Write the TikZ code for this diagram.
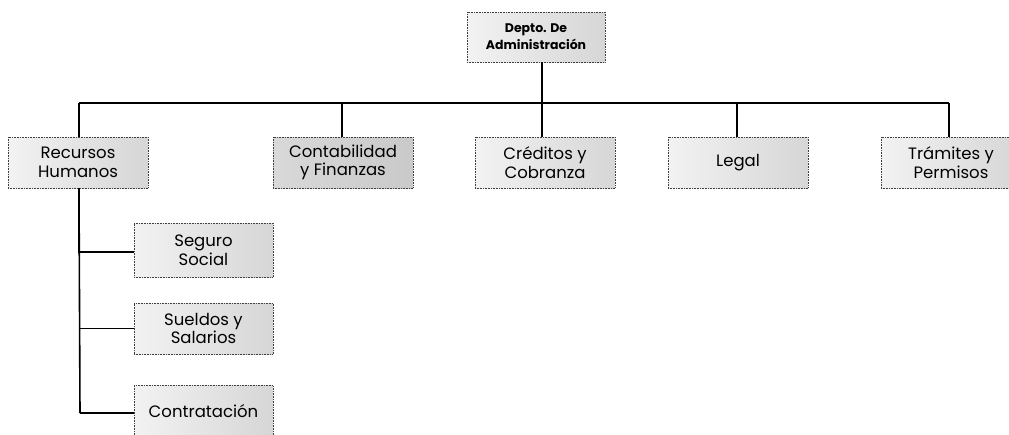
\documentclass[tikz,border=0pt]{standalone}
\usepackage{fontspec}
\setmainfont{Poppins}
\begin{document}
\begin{tikzpicture}[x=1pt,y=-1pt,
  unit/.style={draw=black!75, line width=0.6pt, densely dotted,
    left color=gray!10, right color=gray!32,
    minimum width=140pt, minimum height=51pt, inner sep=0pt,
    align=center, font=\fontsize{16.5}{18.5}\selectfont},
  darkunit/.style={unit, left color=gray!30, right color=gray!42},
  headunit/.style={unit, minimum width=138pt, minimum height=50pt,
    font=\bfseries\fontsize{12.5}{17}\selectfont},
  link/.style={draw=black, line width=1.6pt},
  bus/.style={draw=black, line width=1.2pt}]
\useasboundingbox (0,0) rectangle (1009,434);
\clip (0,0) rectangle (1009,434);

% head of department
\node[headunit] (dir) at (536,37) {Depto. De\\Administración};

% departments
\node[unit]     (rh)    at (78,162.5)  {Recursos\\Humanos};
\node[darkunit] (cf)    at (343,162.5) {Contabilidad\\y Finanzas};
\node[unit]     (cc)    at (545,162.5) {Créditos y\\Cobranza};
\node[unit]     (legal) at (738,162.5) {Legal};
\node[unit]     (tp)    at (951,162.5) {Trámites y\\Permisos};

% human resources sections
\node[unit, minimum width=139pt, minimum height=54pt] (ss) at (203.5,250)   {Seguro\\Social};
\node[unit, minimum width=139pt] (sy) at (203.5,328.5) {Sueldos y\\Salarios};
\node[unit, minimum width=139pt] (ct) at (203.5,411)   {Contratación};

% bus line
\coordinate (busL) at (79,103);
\coordinate (busR) at (949,103);
\draw[bus] (busL) -- (busR);
\draw[link] ([xshift=6pt]dir.south) -- ([xshift=6pt]dir.south |- busL);
\draw[link] (busL) -- ([xshift=1pt]rh.north);
\draw[link] ([xshift=-1pt]cf.north |- busL) -- ([xshift=-1pt]cf.north);
\draw[link] ([xshift=-3pt]cc.north |- busL) -- ([xshift=-3pt]cc.north);
\draw[link] ([xshift=-1pt]legal.north |- busL) -- ([xshift=-1pt]legal.north);
\draw[link] (busR) -- ([xshift=-2pt]tp.north);

% sub-tree under human resources
\coordinate (hrEnd) at (80,413);
\draw[link] ([xshift=1pt]rh.south) -- (hrEnd);
\draw[bus] (ss.west |- 0,252) -| ([xshift=1pt]rh.south);
\draw[bus] (sy.west) -- (sy.west -| hrEnd);
\draw[link] (hrEnd) -- (hrEnd -| ct.west);
\end{tikzpicture}
\end{document}
